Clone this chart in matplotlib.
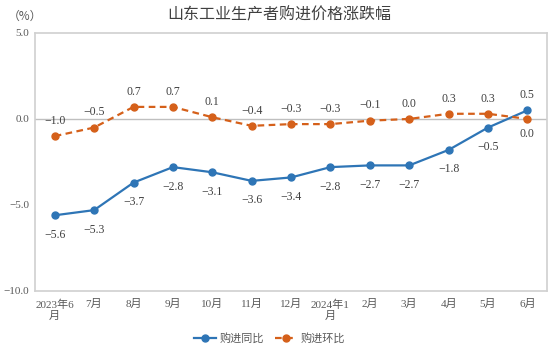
import matplotlib

matplotlib.use("Agg", force=True)
import matplotlib.pyplot as plt
from matplotlib.lines import Line2D

plt.rcParams["font.family"] = ["Liberation Serif", "Noto Sans CJK SC", "DejaVu Sans"]
plt.rcParams["axes.unicode_minus"] = True

months = [
    "2023年6\n月", "7月", "8月", "9月", "10月", "11月", "12月",
    "2024年1\n月", "2月", "3月", "4月", "5月", "6月",
]
yoy = [-5.6, -5.3, -3.7, -2.8, -3.1, -3.6, -3.4, -2.8, -2.7, -2.7, -1.8, -0.5, 0.5]
mom = [-1.0, -0.5, 0.7, 0.7, 0.1, -0.4, -0.3, -0.3, -0.1, 0.0, 0.3, 0.3, 0.0]
yticks = [5.0, 0.0, -5.0, -10.0]

blue = "#2E75B6"
orange = "#D5601A"
grey = "#BFBFBF"
text_grey = "#595959"

fig = plt.figure(figsize=(5.56, 3.54), dpi=100)
ax = fig.add_axes([0.063, 0.178, 0.921, 0.729])

x = list(range(len(months)))
ax.axhline(0.0, color=grey, linewidth=1.0, zorder=1)
ax.plot(x, yoy, color=blue, linewidth=1.6, marker="o", markersize=5, zorder=3)
ax.plot(x, mom, color=orange, linewidth=1.6, linestyle=(0, (3, 2)),
        marker="o", markersize=5, zorder=3)

label_kw = dict(textcoords="offset points", ha="center", va="center",
                fontsize=8.5, color="#404040")
for i, v in enumerate(yoy):
    dy = 11 if i == len(yoy) - 1 else -14
    ax.annotate(f"{v:.1f}".replace("-", "\u2212"), (i, v), xytext=(0, dy), **label_kw)
for i, v in enumerate(mom):
    dy = -11 if i == len(mom) - 1 else 11
    ax.annotate(f"{v:.1f}".replace("-", "\u2212"), (i, v), xytext=(0, dy), **label_kw)

ax.set_xlim(-0.5, len(months) - 0.5)
ax.set_ylim(-10.0, 5.0)
ax.set_yticks(yticks)
ax.set_yticklabels([f"{v:.1f}".replace("-", "\u2212") for v in yticks])
ax.set_xticks(x)
ax.set_xticklabels(months, linespacing=1.1)
ax.tick_params(length=0, labelsize=8, colors=text_grey, pad=6)
ax.tick_params(axis="y", pad=4)
for spine in ax.spines.values():
    spine.set_color("#D0D0D0")
    spine.set_linewidth(1.2)

fig.text(0.502, 0.958, "山东工业生产者购进价格涨跌幅", ha="center", va="center",
         fontsize=11.5, color="#404040", family=["Noto Sans CJK SC"])
fig.text(0.014, 0.955, "（%）", ha="left", va="center", fontsize=8.5,
         color=text_grey, family=["Noto Sans CJK SC"])

handles = [
    Line2D([], [], color=blue, linewidth=1.6, marker="o", markersize=5),
    Line2D([], [], color=orange, linewidth=1.6, linestyle=(0, (3, 2)),
           marker="o", markersize=5),
]
fig.legend(handles, ["购进同比", "购进环比"], loc="center", bbox_to_anchor=(0.485, 0.043),
           ncol=2, frameon=False, handlelength=2.0, handletextpad=0.3,
           columnspacing=1.0, labelcolor=text_grey,
           prop={"family": ["Noto Sans CJK SC"], "size": 8})

fig.savefig("out.png", dpi=100, facecolor="white")
